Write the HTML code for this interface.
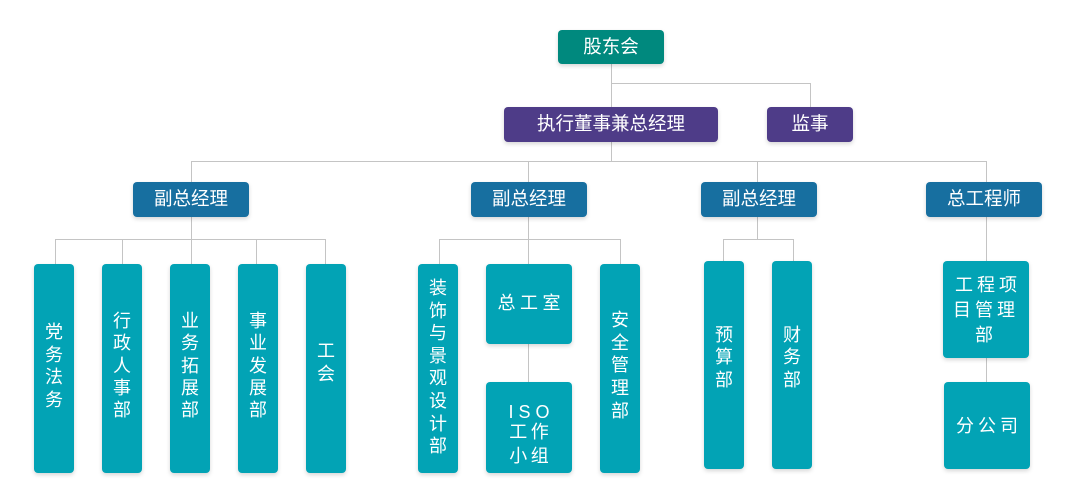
<!DOCTYPE html>
<html>
<head>
<meta charset="utf-8">
<style>
html,body{margin:0;padding:0;}
body{width:1075px;height:494px;background:#fff;position:relative;overflow:hidden;
font-family:"Liberation Sans","Noto Sans CJK SC",sans-serif;}
.b{position:absolute;border-radius:4px;box-shadow:0 2px 4px rgba(0,0,0,0.16);}
.h{display:flex;align-items:center;justify-content:center;color:#fff;font-size:18.5px;line-height:1;}
.teal{background:#00897e;}
.pur{background:#4e3c88;}
.blue{background:#176fa0;}
.cy{background:#02a3b5;}
.t{position:absolute;color:#fff;font-size:18px;text-align:center;white-space:nowrap;}
svg{position:absolute;left:0;top:0;}
</style>
</head>
<body>
<svg width="1075" height="494">
<g stroke="#c4c4c4" stroke-width="1" fill="none" shape-rendering="crispEdges">
<line x1="611.5" y1="64" x2="611.5" y2="107"/>
<line x1="611.5" y1="83.5" x2="810.5" y2="83.5"/>
<line x1="810.5" y1="83" x2="810.5" y2="107"/>
<line x1="611.5" y1="142" x2="611.5" y2="161"/>
<line x1="191.5" y1="161.5" x2="986.5" y2="161.5"/>
<line x1="191.5" y1="161" x2="191.5" y2="182"/>
<line x1="528.5" y1="161" x2="528.5" y2="182"/>
<line x1="757.5" y1="161" x2="757.5" y2="182"/>
<line x1="986.5" y1="161" x2="986.5" y2="182"/>
<!-- group 1 -->
<line x1="191.5" y1="217" x2="191.5" y2="264"/>
<line x1="55.5" y1="239.5" x2="325.5" y2="239.5"/>
<line x1="55.5" y1="239" x2="55.5" y2="264"/>
<line x1="122.5" y1="239" x2="122.5" y2="264"/>
<line x1="256.5" y1="239" x2="256.5" y2="264"/>
<line x1="325.5" y1="239" x2="325.5" y2="264"/>
<!-- group 2 -->
<line x1="528.5" y1="217" x2="528.5" y2="264"/>
<line x1="439.5" y1="239.5" x2="620.5" y2="239.5"/>
<line x1="439.5" y1="239" x2="439.5" y2="264"/>
<line x1="620.5" y1="239" x2="620.5" y2="264"/>
<line x1="528.5" y1="344" x2="528.5" y2="382"/>
<!-- group 3 -->
<line x1="757.5" y1="217" x2="757.5" y2="239"/>
<line x1="723.5" y1="239.5" x2="793.5" y2="239.5"/>
<line x1="723.5" y1="239" x2="723.5" y2="261"/>
<line x1="793.5" y1="239" x2="793.5" y2="261"/>
<!-- group 4 -->
<line x1="986.5" y1="217" x2="986.5" y2="261"/>
<line x1="986.5" y1="358" x2="986.5" y2="382"/>
</g>
</svg>

<div class="b h teal" style="left:558px;top:30px;width:106px;height:34px;">股东会</div>
<div class="b h pur" style="left:504px;top:107px;width:214px;height:35px;">执行董事兼总经理</div>
<div class="b h pur" style="left:767px;top:107px;width:86px;height:35px;">监事</div>

<div class="b h blue" style="left:133px;top:182px;width:116px;height:35px;">副总经理</div>
<div class="b h blue" style="left:471px;top:182px;width:116px;height:35px;">副总经理</div>
<div class="b h blue" style="left:701px;top:182px;width:116px;height:35px;">副总经理</div>
<div class="b h blue" style="left:926px;top:182px;width:116px;height:35px;">总工程师</div>

<!-- group 1 boxes -->
<div class="b cy" style="left:34px;top:264px;width:40px;height:209px;"></div>
<div class="b cy" style="left:102px;top:264px;width:40px;height:209px;"></div>
<div class="b cy" style="left:170px;top:264px;width:40px;height:209px;"></div>
<div class="b cy" style="left:238px;top:264px;width:40px;height:209px;"></div>
<div class="b cy" style="left:306px;top:264px;width:40px;height:209px;"></div>
<div class="t" style="left:34px;top:321px;width:40px;line-height:22.5px;">党<br>务<br>法<br>务</div>
<div class="t" style="left:102px;top:310px;width:40px;line-height:22.3px;">行<br>政<br>人<br>事<br>部</div>
<div class="t" style="left:170px;top:310px;width:40px;line-height:22.3px;">业<br>务<br>拓<br>展<br>部</div>
<div class="t" style="left:238px;top:310px;width:40px;line-height:22.3px;">事<br>业<br>发<br>展<br>部</div>
<div class="t" style="left:306px;top:340px;width:40px;line-height:22.5px;">工<br>会</div>

<!-- group 2 boxes -->
<div class="b cy" style="left:418px;top:264px;width:40px;height:209px;"></div>
<div class="b cy" style="left:486px;top:264px;width:86px;height:80px;"></div>
<div class="b cy" style="left:486px;top:382px;width:86px;height:91px;"></div>
<div class="b cy" style="left:600px;top:264px;width:40px;height:209px;"></div>
<div class="t" style="left:418px;top:277px;width:40px;line-height:22.6px;">装<br>饰<br>与<br>景<br>观<br>设<br>计<br>部</div>
<div class="t" style="left:486px;top:292px;width:86px;line-height:22.6px;letter-spacing:4.5px;text-indent:4.5px;">总工室</div>
<div class="t" style="left:486px;top:400px;width:86px;line-height:24px;letter-spacing:5px;text-indent:5px;">ISO</div>
<div class="t" style="left:486px;top:420px;width:86px;line-height:24px;letter-spacing:3.5px;text-indent:3.5px;">工作</div>
<div class="t" style="left:486px;top:444px;width:86px;line-height:24px;letter-spacing:3.5px;text-indent:3.5px;">小组</div>
<div class="t" style="left:600px;top:309px;width:40px;line-height:22.7px;">安<br>全<br>管<br>理<br>部</div>

<!-- group 3 boxes -->
<div class="b cy" style="left:704px;top:261px;width:40px;height:208px;"></div>
<div class="b cy" style="left:772px;top:261px;width:40px;height:208px;"></div>
<div class="t" style="left:704px;top:323.5px;width:40px;line-height:22.8px;">预<br>算<br>部</div>
<div class="t" style="left:772px;top:323.5px;width:40px;line-height:22.8px;">财<br>务<br>部</div>

<!-- group 4 boxes -->
<div class="b cy" style="left:943px;top:261px;width:86px;height:97px;"></div>
<div class="b cy" style="left:944px;top:382px;width:86px;height:87px;"></div>
<div class="t" style="left:943px;top:273px;width:86px;line-height:25px;letter-spacing:4px;text-indent:4px;">工程项<br>目管理<br>部</div>
<div class="t" style="left:944px;top:415px;width:86px;line-height:22.6px;letter-spacing:4px;text-indent:4px;">分公司</div>
</body>
</html>
